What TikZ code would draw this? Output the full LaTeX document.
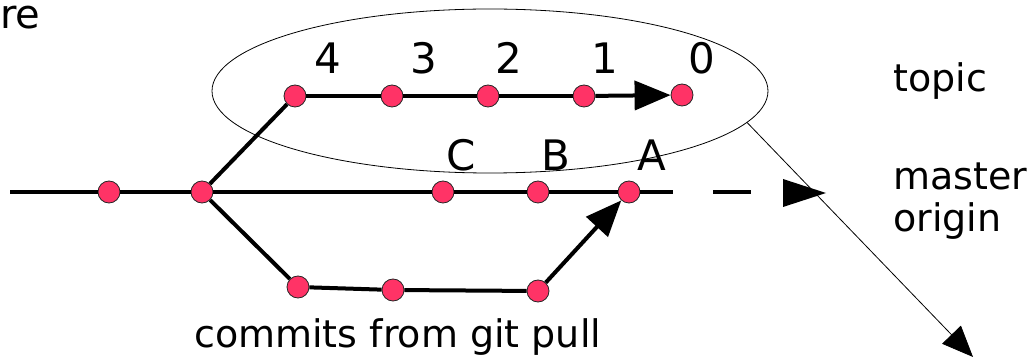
\documentclass[tikz,border=0pt]{standalone}
\usepackage{fontspec}
\setmainfont{DejaVu Sans}
\usetikzlibrary{arrows.meta,shapes.geometric}
\definecolor{commitc}{RGB}{255,51,102}
\begin{document}
\begin{tikzpicture}[x=1pt,y=-1pt,
  commit/.style={circle,fill=commitc,draw=black!85,line width=0.8pt,minimum size=22pt,inner sep=0pt},
  thickedge/.style={line width=4pt},
  thinedge/.style={line width=0.8pt},
  lbl/.style={font=\fontsize{38}{45}\selectfont,inner sep=0pt},
  biglbl/.style={font=\fontsize{42}{50}\selectfont,inner sep=0pt},
  bigtip/.style={-{Triangle[length=36pt,width=29pt]}}]
\useasboundingbox (0,0) rectangle (1029,358);
% ellipse around topic
\node[draw,ellipse,thinedge,minimum width=556pt,minimum height=164pt] (topic) at (490,91) {};
% commits
\node[commit] (t4) at (295,96) {};
\node[commit] (t3) at (392,96) {};
\node[commit] (t2) at (488,96) {};
\node[commit] (t1) at (584,96) {};
\node[commit] (t0) at (682,95) {};
\node[commit] (m0) at (109,192) {};
\node[commit] (m1) at (202,192) {};
\node[commit] (mC) at (443,192) {};
\node[commit] (mB) at (538,192) {};
\node[commit] (mA) at (629,192) {};
\node[commit] (b1) at (298,287) {};
\node[commit] (b2) at (393,290) {};
\node[commit] (b3) at (538,291) {};
\coordinate (mstart) at (10,192);
\coordinate (mend) at (673,192);
\coordinate (d1) at (713,192);
\coordinate (d2) at (751,192);
\coordinate (far) at (973,357);
% edges
\draw[thickedge] (t4) -- (t3) -- (t2) -- (t1);
\draw[thickedge,bigtip] (t1) -- (t0);
\draw[thickedge] (mstart) -- (m0) -- (m1) -- (mC) -- (mB) -- (mA) -- (mend);
\draw[thickedge] (d1) -- (d2);
\fill (783,179) -- (826,193) -- (783,207) -- cycle;
\draw[thickedge] (m1) -- (t4);
\draw[thickedge] (m1) -- (b1) -- (b2) -- (b3);
\draw[thickedge,bigtip] (b3) -- (mA);
\draw[thinedge,-{Triangle[length=31pt,width=26pt]}] (topic.-7) -- (far);
% labels
\node[anchor=base west,inner sep=0pt,font=\fontsize{40}{48}\selectfont] (lre) at (0,29) {re};
\node[biglbl,anchor=base] (l4) at (328,74) {4};
\node[biglbl,anchor=base] (l3) at (424,74) {3};
\node[biglbl,anchor=base] (l2) at (509,74) {2};
\node[biglbl,anchor=base] (l1) at (605,74) {1};
\node[biglbl,anchor=base] (l0) at (702,74) {0};
\node[biglbl,anchor=base] (lC) at (461,171) {C};
\node[biglbl,anchor=base] (lB) at (556,171) {B};
\node[biglbl,anchor=base] (lA) at (652,171) {A};
\node[lbl,anchor=base west] (ltopic) at (893,92) {topic};
\node[lbl,anchor=base west] (lmaster) at (893,190) {master};
\node[lbl,anchor=base west] (lorigin) at (893,232) {origin};
\node[lbl,anchor=base west] (lpull) at (194,348) {commits from git pull};
\end{tikzpicture}
\end{document}
